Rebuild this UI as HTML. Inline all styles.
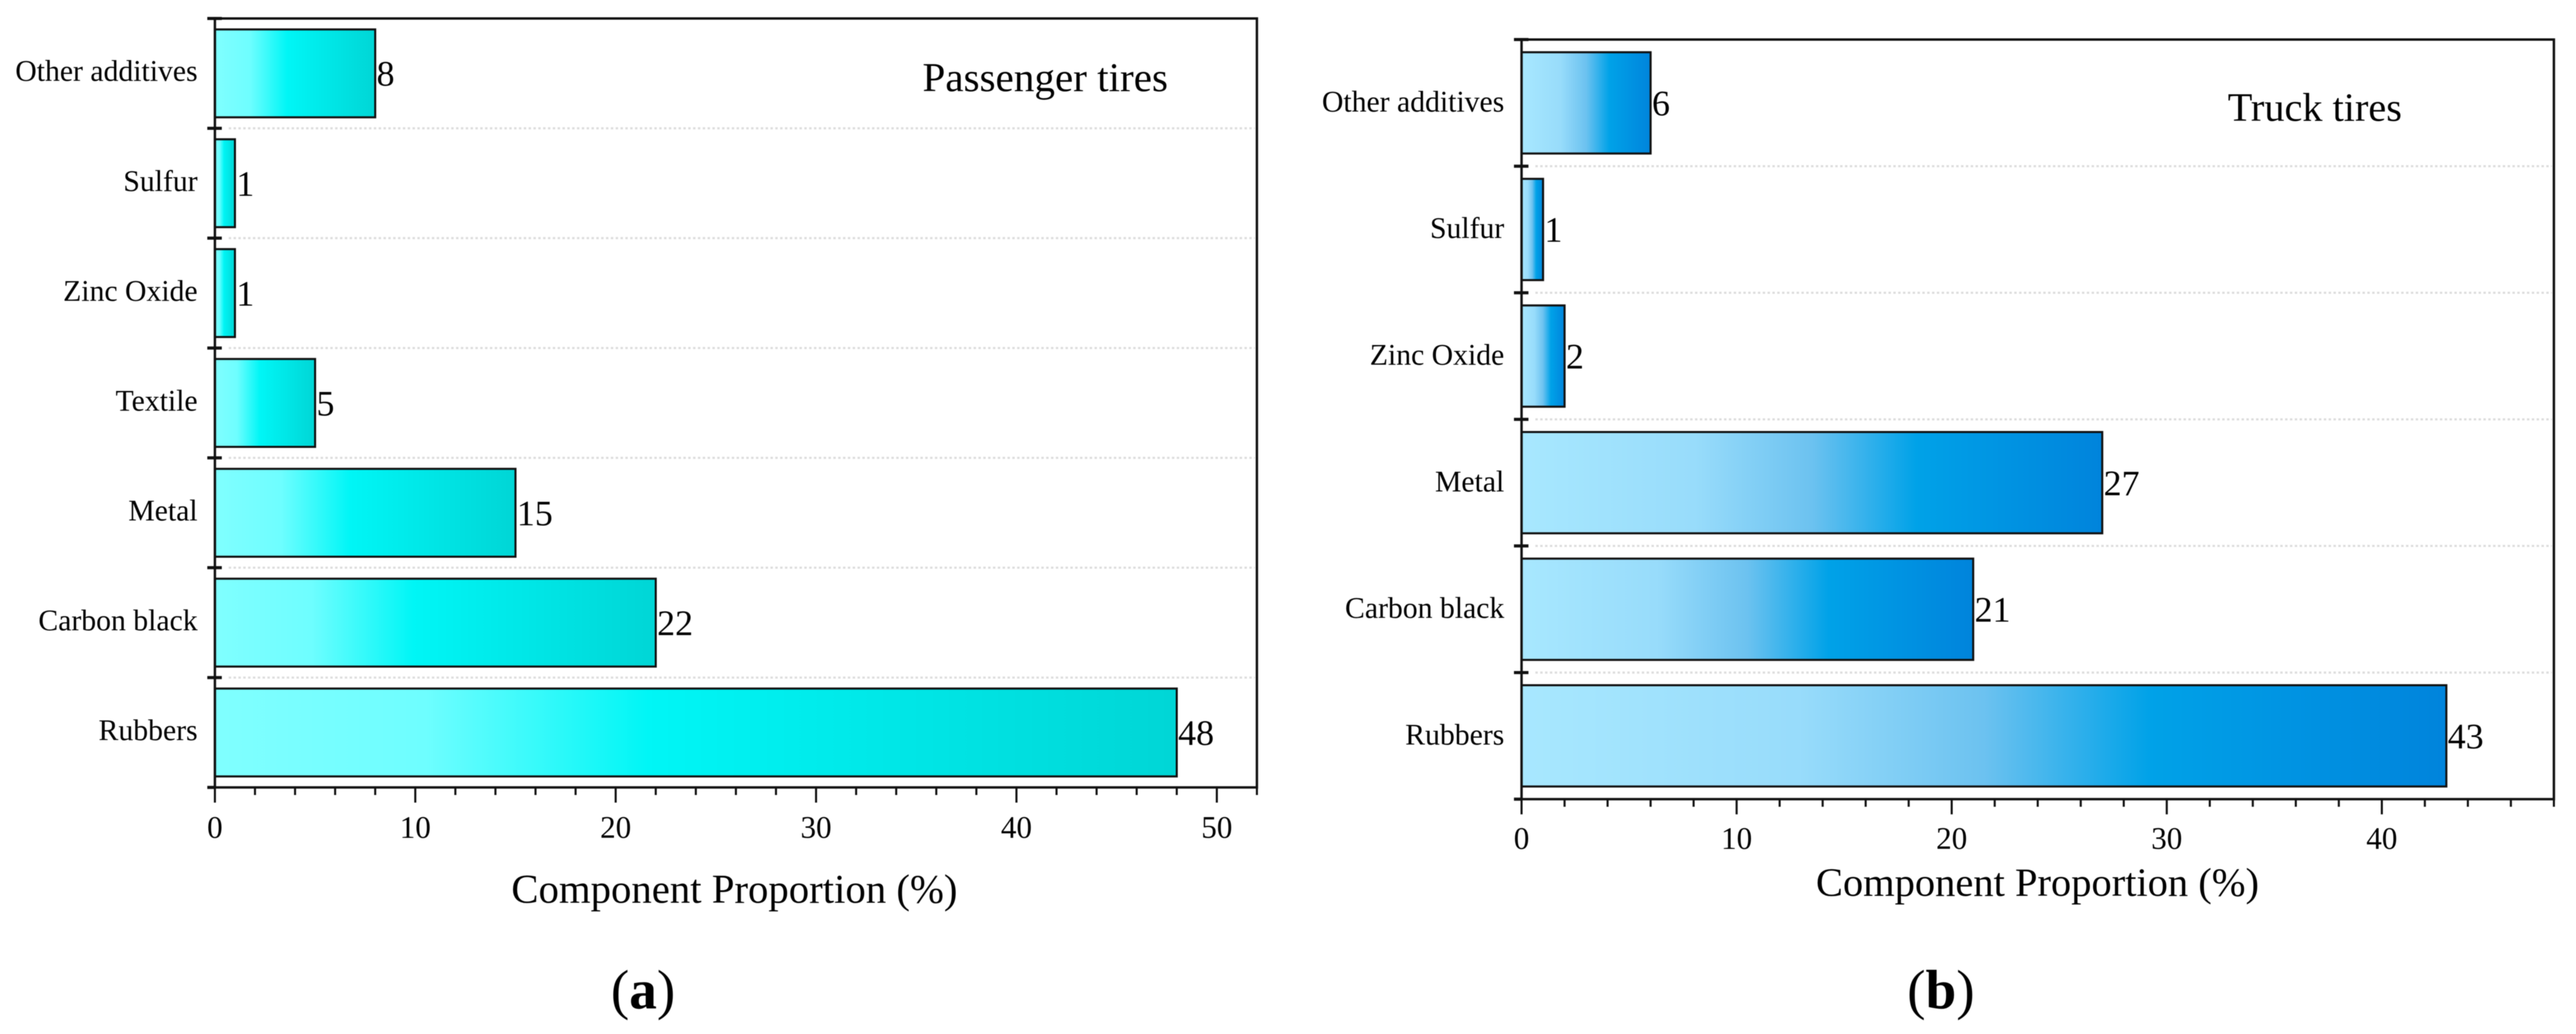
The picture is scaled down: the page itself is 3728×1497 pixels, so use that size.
<!DOCTYPE html>
<html lang="en">
<head>
<meta charset="utf-8">
<title>Tire component proportions</title>
<style>
html,body{margin:0;padding:0;background:#fff;width:3728px;height:1497px;overflow:hidden}
svg{display:block;filter:blur(.6px)}
text{font-family:"Liberation Serif","Times New Roman",serif;fill:#000}
</style>
</head>
<body>
<svg id="figure" xmlns="http://www.w3.org/2000/svg" width="3728" height="1497" viewBox="0 0 3728 1497">
  <defs>
    <linearGradient id="cyan-gradient" x1="0" y1="0" x2="1" y2="0">
      <stop offset="0" stop-color="#80ffff"/>
      <stop offset="0.22" stop-color="#6efeff"/>
      <stop offset="0.45" stop-color="#00f6f6"/>
      <stop offset="1" stop-color="#00d6d6"/>
    </linearGradient>
    <linearGradient id="blue-gradient" x1="0" y1="0" x2="1" y2="0">
      <stop offset="0" stop-color="#a8e8ff"/>
      <stop offset="0.3" stop-color="#98dcfb"/>
      <stop offset="0.5" stop-color="#6cc2f0"/>
      <stop offset="0.68" stop-color="#00a2e8"/>
      <stop offset="1" stop-color="#0084dc"/>
    </linearGradient>
  </defs>
</svg>
<script>
const passengerCategories = ["Other additives", "Sulfur", "Zinc Oxide", "Textile", "Metal", "Carbon black", "Rubbers"];
const passengerValues = [8, 1, 1, 5, 15, 22, 48];
const passengerTicks = [0, 10, 20, 30, 40, 50];
const passengerMax = 52;

const truckCategories = ["Other additives", "Sulfur", "Zinc Oxide", "Metal", "Carbon black", "Rubbers"];
const truckValues = [6, 1, 2, 27, 21, 43];
const truckTicks = [0, 10, 20, 30, 40];
const truckMax = 48;

const minorStep = 2;

const svg = document.getElementById('figure');
const NS = 'http://www.w3.org/2000/svg';

function make(tag, attrs, parent, txt) {
  const el = document.createElementNS(NS, tag);
  for (const k in attrs) el.setAttribute(k, attrs[k]);
  if (txt !== undefined) el.textContent = txt;
  parent.appendChild(el);
  return el;
}
function slug(s) { return String(s).toLowerCase().replace(/[^a-z0-9]+/g, '-'); }

function drawPanel(p) {
  const g = make('g', {}, svg);
  
  

  const xScale = v => p.left + (v / p.max) * (p.right - p.left);
  const band = (p.bottom - p.top) / p.categories.length;
  const yBand = i => p.top + band * i;

  // gridlines at interior band boundaries
  for (let i = 1; i < p.categories.length; i++) {
    const grid = make('line', {x1: p.left + 20, x2: p.right - 3, y1: yBand(i), y2: yBand(i), stroke: '#dcdcdc', 'stroke-width': 3, 'stroke-dasharray': '3.5 3.5'}, g);
    
    
  }

  // bars
  p.values.forEach((v, i) => {
    const h = band * 0.8;
    const cy = yBand(i) + band / 2;
    const bar = make('rect', {x: xScale(0), y: cy - h / 2, width: xScale(v) - xScale(0), height: h, fill: 'url(#' + p.gradient + ')', stroke: '#111', 'stroke-width': 3}, g);
    
    

    const val = make('text', {x: xScale(v) + 2, y: cy + 18, 'font-size': 52}, g, v);
    
    

    const cat = make('text', {x: p.catRight, y: cy + p.catDy, 'font-size': 43, 'text-anchor': 'end'}, g, p.categories[i]);
    
    
  });

  // frame
  const frame = make('path', {d: 'M' + p.left + ' ' + p.top + 'H' + p.right + 'V' + p.bottom + 'H' + p.left + 'Z', fill: 'none', stroke: '#111', 'stroke-width': 3.5}, g);
  
  

  // category ticks crossing the left axis
  for (let i = 0; i <= p.categories.length; i++) {
    const inner = i === p.categories.length ? p.left : p.left + 10;
    const tick = make('line', {x1: p.left - 11, x2: inner, y1: yBand(i), y2: yBand(i), stroke: '#111', 'stroke-width': 4.5}, g);
    
    
  }

  // x ticks
  for (let t = 0; t <= p.max; t += minorStep) {
    const isMajor = p.ticks.includes(t);
    const tick = make('line', {x1: xScale(t), x2: xScale(t), y1: p.bottom, y2: p.bottom + (isMajor ? 22 : 11), stroke: '#111', 'stroke-width': 3}, g);
    
    
  }
  p.ticks.forEach(t => {
    const lab = make('text', {x: xScale(t), y: p.tickBase, 'font-size': 45, 'text-anchor': 'middle'}, g, t);
    
    
  });

  const xt = make('text', {x: p.titleX, y: p.titleBase, 'font-size': p.titleSize}, g, 'Component Proportion (%)');
  
  

  const ann = make('text', {x: p.annX, y: p.annBase, 'font-size': p.annSize}, g, p.annotation);
  
  

  const cap = make('text', {x: p.capX, y: 1460, 'font-size': 80}, g);
  
  
  make('tspan', {}, cap, '(');
  make('tspan', {'font-weight': 'bold'}, cap, p.letter);
  make('tspan', {}, cap, ')');
}

drawPanel({
  id: 'passenger-tires', categories: passengerCategories, values: passengerValues, ticks: passengerTicks, max: passengerMax,
  gradient: 'cyan-gradient', left: 311, right: 1819, top: 26.7, bottom: 1140,
  catRight: 286, catDy: 11, tickBase: 1213, titleX: 740, titleBase: 1307, titleSize: 59,
  annotation: 'Passenger tires', annX: 1335, annBase: 132, annSize: 59.5, capX: 884, letter: 'a'
});
drawPanel({
  id: 'truck-tires', categories: truckCategories, values: truckValues, ticks: truckTicks, max: truckMax,
  gradient: 'blue-gradient', left: 2202, right: 3696, top: 57.3, bottom: 1157,
  catRight: 2177, catDy: 12.5, tickBase: 1229, titleX: 2628, titleBase: 1297, titleSize: 58.6,
  annotation: 'Truck tires', annX: 3224, annBase: 175, annSize: 58.3, capX: 2760, letter: 'b'
});
</script>
</body>
</html>
